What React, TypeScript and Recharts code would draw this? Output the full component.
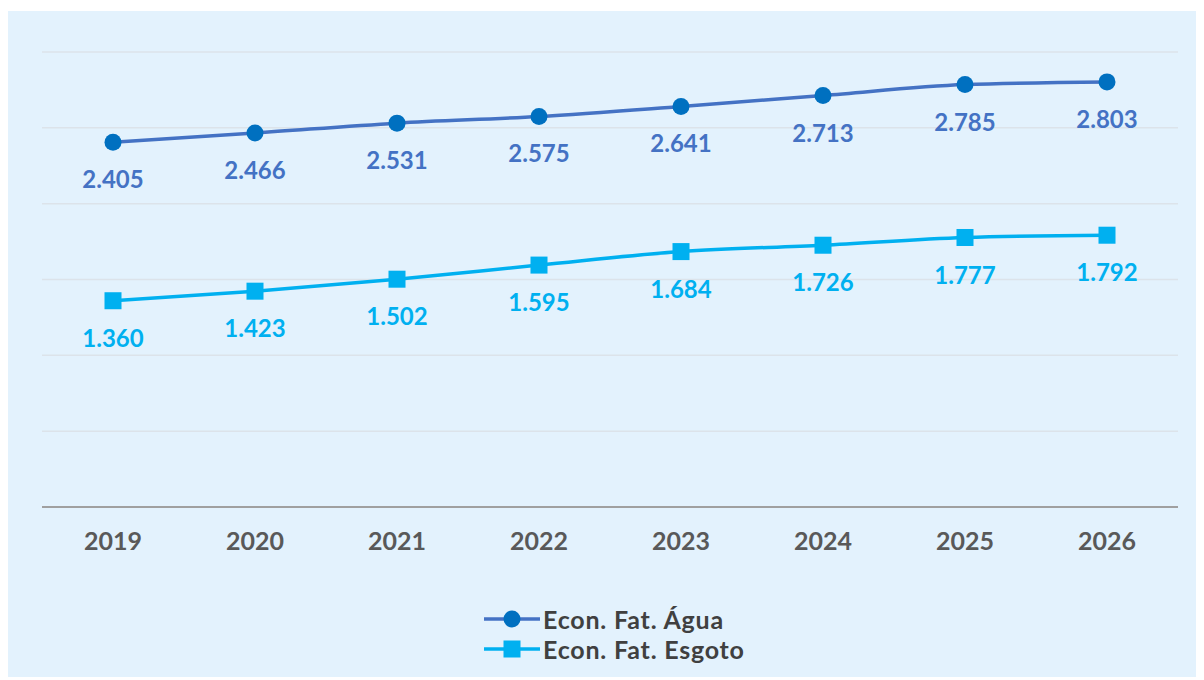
import { LineChart, Line, XAxis, YAxis, CartesianGrid, LabelList, Legend } from 'recharts';

const years = ['2019', '2020', '2021', '2022', '2023', '2024', '2025', '2026'];
const agua = [2405, 2466, 2531, 2575, 2641, 2713, 2785, 2803];
const esgoto = [1360, 1423, 1502, 1595, 1684, 1726, 1777, 1792];
const yTicks = [0, 500, 1000, 1500, 2000, 2500, 3000];

const AGUA_LINE = '#4472C4';
const AGUA_DOT = '#0070C0';
const ESGOTO = '#00B0F0';
const FONT = 'Lato, "Open Sans", sans-serif';

const data = years.map((year, i) => ({ year, agua: agua[i], esgoto: esgoto[i] }));

// 2405 -> "2.405" (pt-BR thousands separator)
const fmt = (v: number) => {
  const s = String(Math.round(v));
  return s.length > 3 ? s.slice(0, -3) + '.' + s.slice(-3) : s;
};

const SquareDot = (props: any) => {
  const { cx, cy } = props;
  if (cx == null || cy == null) return null;
  return <rect x={cx - 8.5} y={cy - 8.5} width={17} height={17} fill={ESGOTO} />;
};

const LegendIcon = ({ kind }: { kind: 'circle' | 'square' }) => (
  <svg width={56} height={24} style={{ display: 'block' }}>
    <line x1={0} y1={12} x2={56} y2={12} stroke={kind === 'circle' ? AGUA_LINE : ESGOTO} strokeWidth={3.5} />
    {kind === 'circle' ? (
      <circle cx={28} cy={12} r={8.5} fill={AGUA_DOT} />
    ) : (
      <rect x={19.5} y={3.5} width={17} height={17} fill={ESGOTO} />
    )}
  </svg>
);

const renderLegend = () => (
  <div style={{ display: 'flex', flexDirection: 'column', gap: 6, fontFamily: FONT }}>
    {[
      { label: 'Econ. Fat. Água', kind: 'circle' as const },
      { label: 'Econ. Fat. Esgoto', kind: 'square' as const },
    ].map((item) => (
      <div key={item.label} style={{ display: 'flex', alignItems: 'center', height: 24 }}>
        <LegendIcon kind={item.kind} />
        <span
          style={{
            fontSize: 25,
            lineHeight: '24px',
            letterSpacing: 0.8,
            fontWeight: 700,
            color: '#404040',
            marginLeft: 3,
            whiteSpace: 'nowrap',
          }}
        >
          {item.label}
        </span>
      </div>
    ))}
  </div>
);

export default function App() {
  return (
    <div style={{ position: 'relative', top: 3, width: 1196, height: 669, background: '#E3F2FD' }}>
      <LineChart width={1196} height={669} data={data} margin={{ top: 41, right: 26, left: 34, bottom: 53 }}>
        <CartesianGrid horizontal vertical={false} stroke="#DCE3EA" strokeWidth={1.5} />
        <XAxis
          dataKey="year"
          height={50}
          padding={{ left: 71, right: 71 }}
          axisLine={{ stroke: '#A0A0A0', strokeWidth: 2 }}
          tickLine={false}
          tickSize={0}
          tickMargin={25}
          tick={{ fill: '#595959', fontSize: 25, fontWeight: 700, fontFamily: FONT }}
        />
        <YAxis hide domain={[0, 3000]} ticks={yTicks} />
        <Legend
          content={renderLegend}
          wrapperStyle={{ top: 596, bottom: 'auto', left: 476, width: 360, height: 70 }}
        />
        <Line
          type="monotone"
          dataKey="agua"
          name="Econ. Fat. Água"
          stroke={AGUA_LINE}
          strokeWidth={3.5}
          dot={{ r: 8.5, fill: AGUA_DOT, stroke: 'none' }}
          activeDot={false}
          isAnimationActive={false}
        >
          <LabelList
            dataKey="agua"
            position="bottom"
            offset={29}
            formatter={(v: any) => fmt(Number(v))}
            style={{ fill: AGUA_LINE, fontSize: 24, fontWeight: 700, fontFamily: FONT }}
          />
        </Line>
        <Line
          type="monotone"
          dataKey="esgoto"
          name="Econ. Fat. Esgoto"
          stroke={ESGOTO}
          strokeWidth={3.5}
          dot={<SquareDot />}
          activeDot={false}
          isAnimationActive={false}
        >
          <LabelList
            dataKey="esgoto"
            position="bottom"
            offset={29}
            formatter={(v: any) => fmt(Number(v))}
            style={{ fill: ESGOTO, fontSize: 24, fontWeight: 700, fontFamily: FONT }}
          />
        </Line>
      </LineChart>
    </div>
  );
}
